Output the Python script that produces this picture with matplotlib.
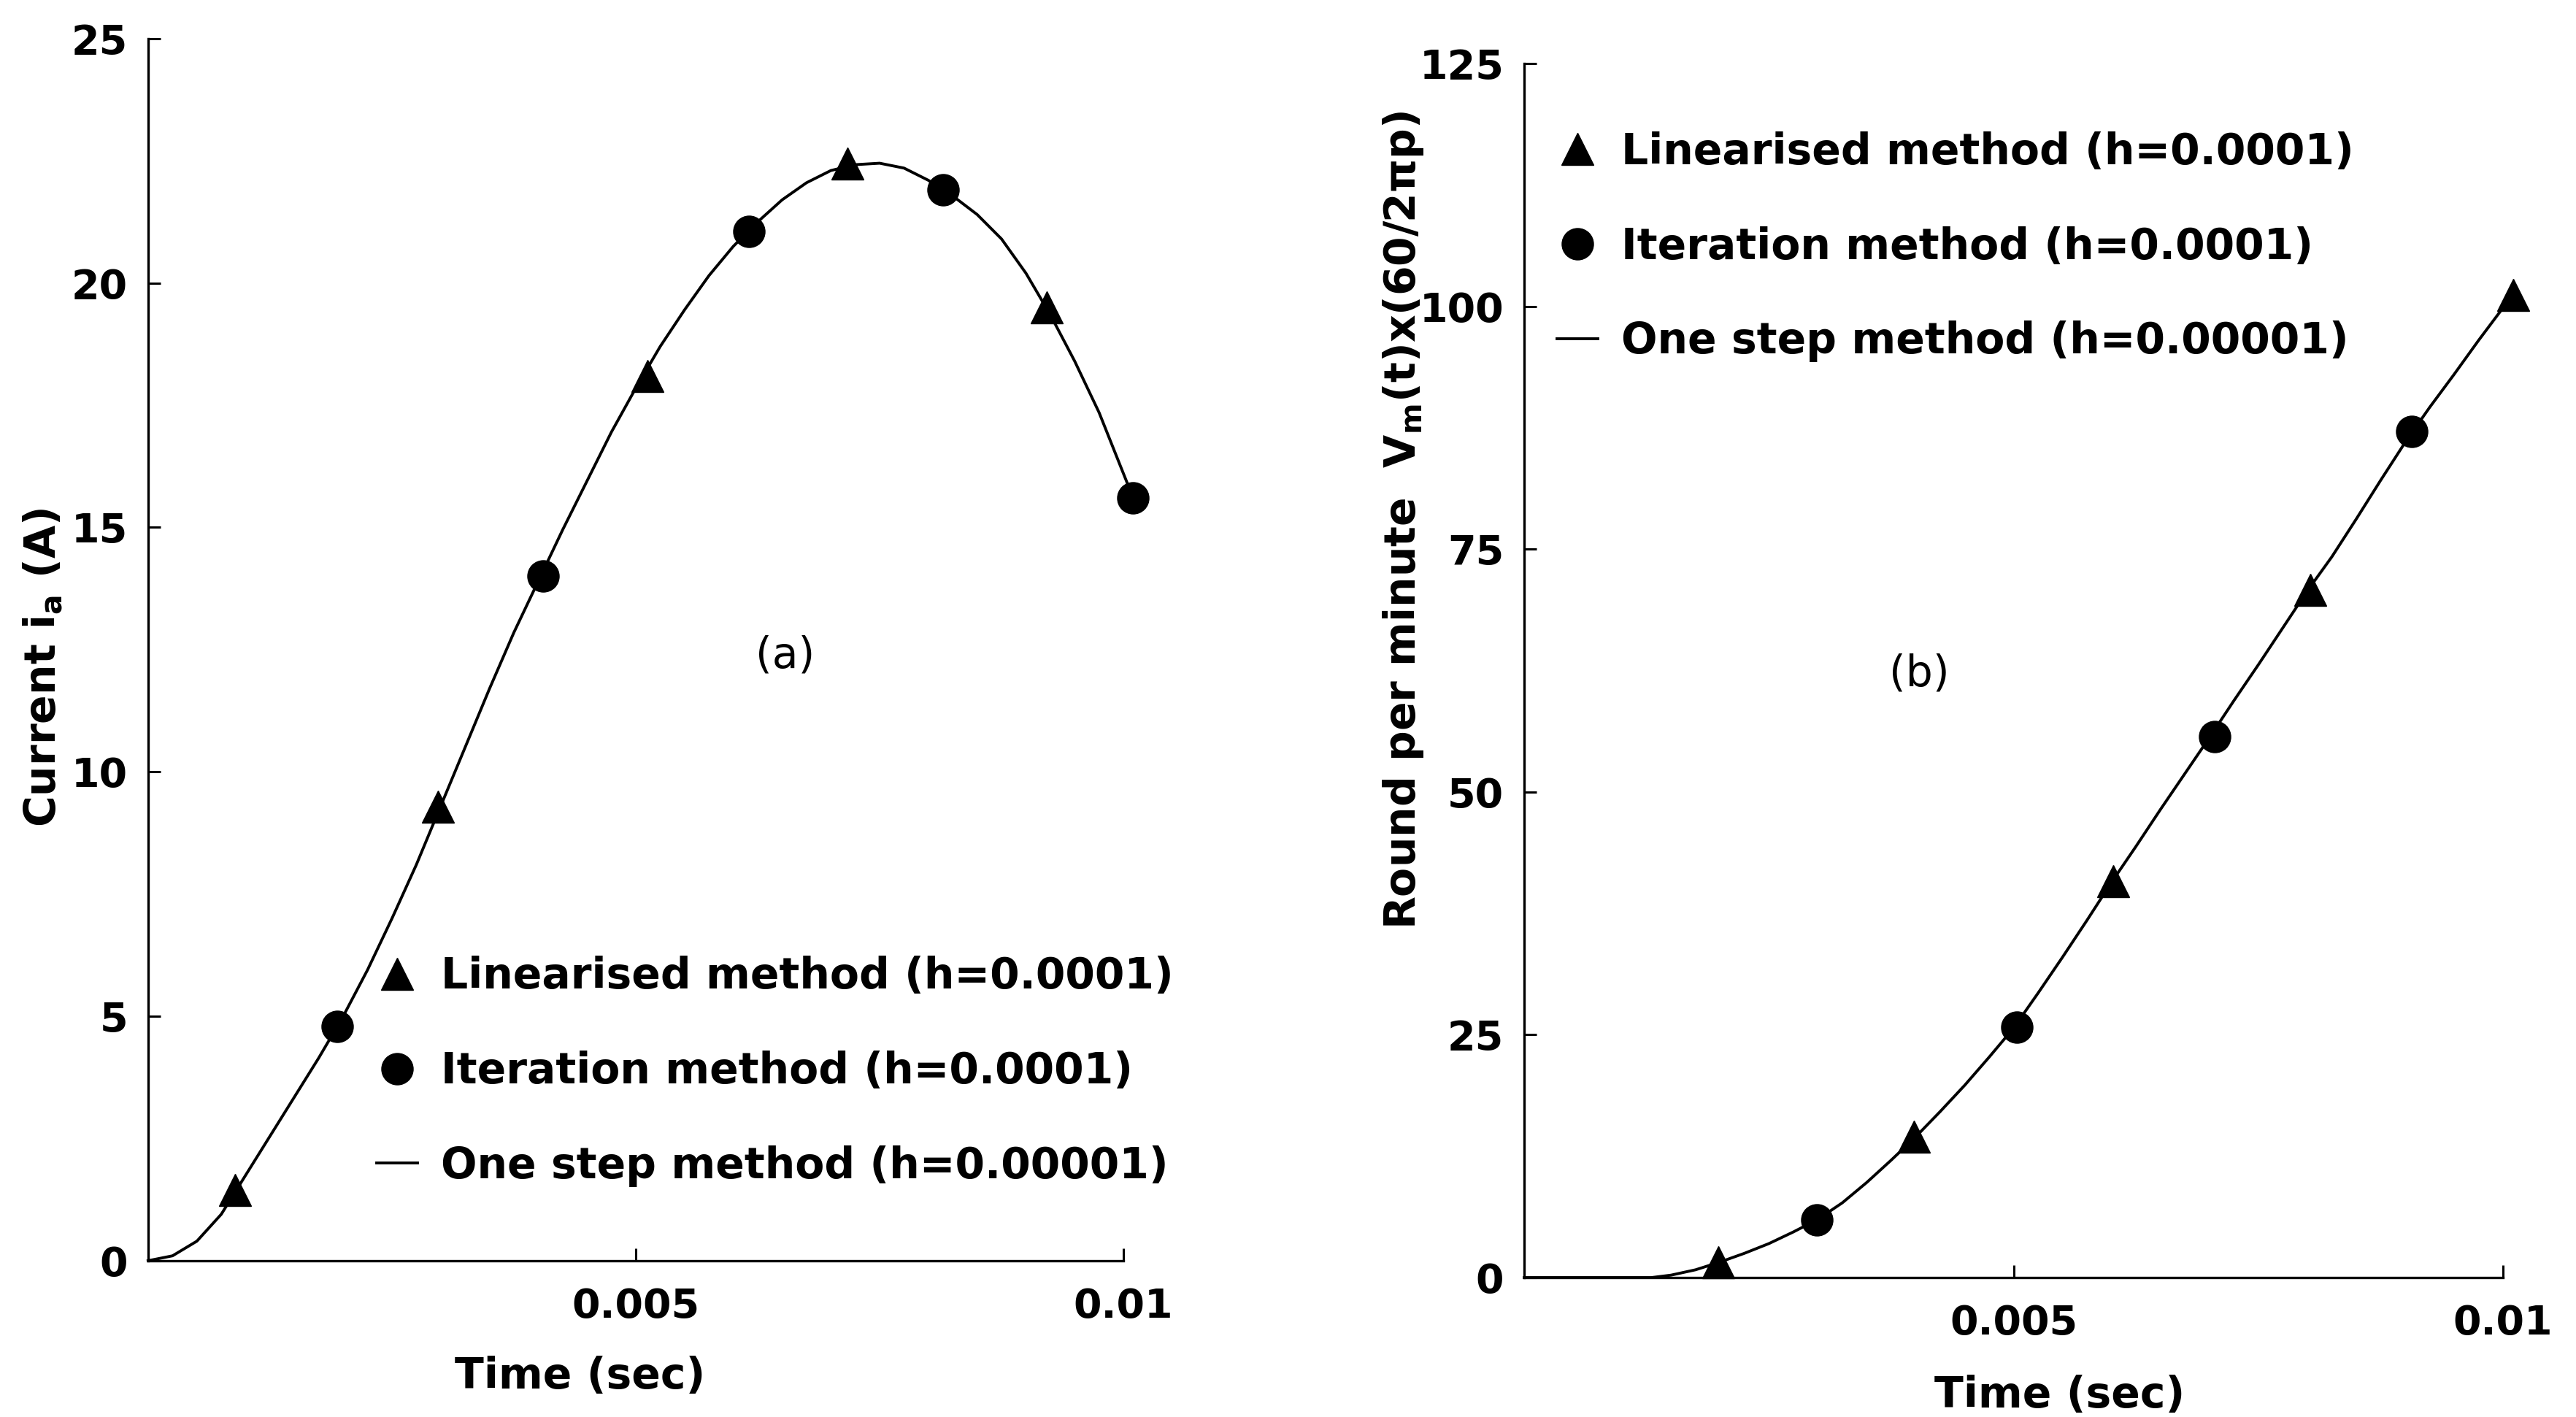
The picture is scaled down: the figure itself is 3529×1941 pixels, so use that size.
import numpy as np
import matplotlib.pyplot as plt
from matplotlib.ticker import FixedLocator, FixedFormatter

plt.rcParams["font.family"] = ["DejaVu Sans"]
plt.rcParams["font.weight"] = "bold"
plt.rcParams["axes.labelweight"] = "bold"
plt.rcParams["mathtext.fontset"] = "dejavusans"
plt.rcParams["mathtext.default"] = "bf"

# (a) armature current
a_lin_t = [0.00089, 0.00297, 0.00512, 0.00717, 0.00921]
a_lin_i = [1.45, 9.28, 18.1, 22.45, 19.5]
a_it_t = [0.00194, 0.00405, 0.00616, 0.00815, 0.0101]
a_it_i = [4.79, 14.0, 21.06, 21.9, 15.6]
a_one_t = [0, 0.00025, 0.0005, 0.00075, 0.001, 0.00125, 0.0015, 0.00175, 0.002,
           0.00225, 0.0025, 0.00275, 0.003, 0.00325, 0.0035, 0.00375, 0.004,
           0.00425, 0.0045, 0.00475, 0.005, 0.00525, 0.0055, 0.00575, 0.006,
           0.00625, 0.0065, 0.00675, 0.007, 0.00725, 0.0075, 0.00775, 0.008,
           0.00825, 0.0085, 0.00875, 0.009, 0.00925, 0.0095, 0.00975, 0.01, 0.0101]
a_one_i = [0, 0.1, 0.4, 0.95, 1.75, 2.55, 3.35, 4.15, 5.0,
           5.95, 7.0, 8.1, 9.3, 10.5, 11.7, 12.85, 13.9,
           14.95, 15.95, 16.95, 17.85, 18.7, 19.45, 20.15, 20.75,
           21.25, 21.7, 22.05, 22.3, 22.42, 22.45, 22.35, 22.1,
           21.78, 21.4, 20.9, 20.2, 19.35, 18.4, 17.35, 16.1, 15.6]

# (b) speed
b_lin_t = [0.00198, 0.00398, 0.00602, 0.00803, 0.0101]
b_lin_v = [1.6, 14.5, 40.8, 70.8, 101.2]
b_it_t = [0.00299, 0.00503, 0.00705, 0.00907]
b_it_v = [5.97, 25.8, 55.7, 87.1]
b_one_t = [0, 0.001, 0.0013, 0.0015, 0.00175, 0.002, 0.00225, 0.0025, 0.00275,
           0.003, 0.00325, 0.0035, 0.00375, 0.004, 0.00425, 0.0045, 0.00475,
           0.005, 0.00525, 0.0055, 0.00575, 0.006, 0.00625, 0.0065, 0.00675,
           0.007, 0.00725, 0.0075, 0.00775, 0.008, 0.00825, 0.0085, 0.00875,
           0.009, 0.00925, 0.0095, 0.00975, 0.0101]
b_one_v = [0, 0, 0, 0.25, 0.8, 1.6, 2.5, 3.5, 4.7,
           6.0, 7.7, 9.8, 12.1, 14.5, 17.1, 19.8, 22.7,
           25.7, 29.3, 33.0, 36.8, 40.7, 44.4, 48.2, 51.9,
           55.6, 59.4, 63.1, 66.9, 70.7, 74.2, 78.1, 82.1,
           86.0, 89.6, 93.0, 96.5, 101.2]

x_ticks = [0.005, 0.01]
x_labels = ["0.005", "0.01"]
a_yticks = [0, 5, 10, 15, 20, 25]
b_yticks = [0, 25, 50, 75, 100, 125]

lab_lin = "Linearised method (h=0.0001)"
lab_it = "Iteration method (h=0.0001)"
lab_one = "One step method (h=0.00001)"

fig = plt.figure(figsize=(35.29, 19.41), dpi=100)
ax1 = fig.add_axes([0.0575, 0.1103, 0.3862, 0.8625])
ax2 = fig.add_axes([0.5917, 0.0984, 0.3876, 0.8568])

FS = 40
ms = 31


def style(ax, ymax, yticks):
    ax.set_xlim(0, 0.0102)
    ax.set_ylim(0, ymax)
    for s in ["top", "right"]:
        ax.spines[s].set_visible(False)
    for s in ["left", "bottom"]:
        ax.spines[s].set_linewidth(2.4)
    ax.spines["bottom"].set_bounds(0, 0.01)
    ax.xaxis.set_major_locator(FixedLocator(x_ticks))
    ax.xaxis.set_major_formatter(FixedFormatter(x_labels))
    ax.set_yticks(yticks)
    ax.tick_params(direction="in", length=12, width=2.2, labelsize=FS, pad=20)
    ax.tick_params(axis="x", pad=26)


handles = {}
for ax, (lt, lv, it, iv, ot, ov) in [
    (ax1, (a_lin_t, a_lin_i, a_it_t, a_it_i, a_one_t, a_one_i)),
    (ax2, (b_lin_t, b_lin_v, b_it_t, b_it_v, b_one_t, b_one_v)),
]:
    h_one, = ax.plot(ot, ov, color="black", lw=2.8, label=lab_one,
                     clip_on=False, solid_joinstyle="round")
    h_lin, = ax.plot(lt, lv, ls="none", marker="^", ms=ms, color="black",
                     label=lab_lin, clip_on=False)
    h_it, = ax.plot(it, iv, ls="none", marker="o", ms=ms, color="black",
                    label=lab_it, clip_on=False)
    handles[ax] = [h_lin, h_it, h_one]

style(ax1, 25, a_yticks)
style(ax2, 125, b_yticks)

leg_kw = dict(frameon=False, fontsize=FS + 2, handlelength=0.95,
              handletextpad=0.55, labelspacing=1.25, borderpad=0,
              borderaxespad=0, numpoints=1, loc="center left")
ax1.legend(handles=handles[ax1], bbox_to_anchor=(0.23, 0.155), **leg_kw)
ax2.legend(handles=handles[ax2], bbox_to_anchor=(0.033, 0.849), **leg_kw)

ax1.set_xlabel("Time (sec)", fontsize=FS + 2, fontweight="bold")
ax1.xaxis.set_label_coords(0.434, -0.078)
ax1.set_ylabel("Current i$_{a}$ (A)", fontsize=FS + 2, fontweight="bold")
ax1.yaxis.set_label_coords(-0.084, 0.485)

ax2.set_xlabel("Time (sec)", fontsize=FS + 2, fontweight="bold")
ax2.xaxis.set_label_coords(0.536, -0.08)
ax2.set_ylabel("Round per minute  V$_{m}$(t)x(60/2πp)", fontsize=FS + 2,
               fontweight="bold")
ax2.yaxis.set_label_coords(-0.099, 0.624)

ax1.text(0.64, 0.495, "(a)", transform=ax1.transAxes, fontsize=FS + 2,
         fontweight="normal", ha="center", va="center")
ax2.text(0.396, 0.497, "(b)", transform=ax2.transAxes, fontsize=FS + 2,
         fontweight="normal", ha="center", va="center")

fig.savefig("out.png", dpi=100, facecolor="white")
